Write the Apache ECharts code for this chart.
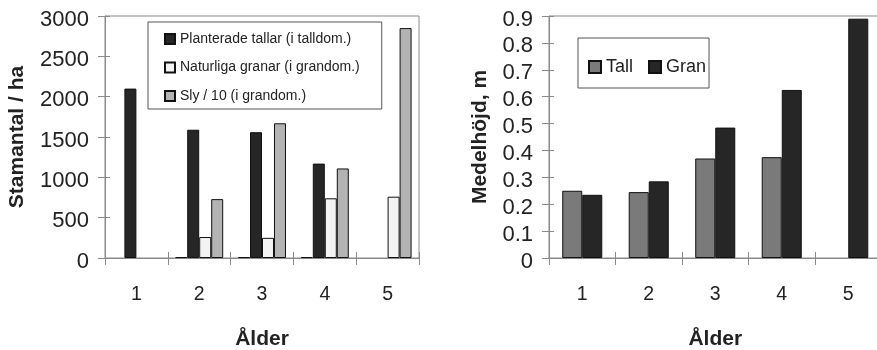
<!DOCTYPE html>
<html>
<head>
<meta charset="utf-8">
<script src="https://cdn.jsdelivr.net/npm/echarts@6/dist/echarts.min.js"></script>
<style>
  html, body { margin: 0; padding: 0; background: #fff; }
  #chart { width: 877px; height: 350px; }
</style>
</head>
<body>
<div id="chart"></div>
<script>
// Age classes shared by both panels
const ageClasses = ['1', '2', '3', '4', '5'];

// Left panel: stems per hectare (null = no bar in that class)
const stemTicksMax = 3000;
const stemTicksStep = 500;
const lowStems = [null, 12, 12, 12, null];
const plantedPine = [2100, 1590, 1560, 1170, null];
const naturalSpruce = [null, 260, 250, 740, 760];
const brushwoodTenth = [null, 730, 1670, 1110, 2850];

// Right panel: mean height in metres
const heightTicksMax = 0.9;
const heightTicksStep = 0.1;
const pineHeight = [0.25, 0.245, 0.37, 0.375, null];
const spruceHeight = [0.235, 0.285, 0.485, 0.625, 0.89];

const FONT = '"Liberation Sans", Arial, Helvetica, sans-serif';
const AXIS_GRAY = '#8a8a8a';
const TEXT = '#222';
const EDGE = { borderColor: '#111', borderWidth: 1 };

const chart = echarts.init(document.getElementById('chart'), null, { renderer: 'canvas' });

function catAxis(grid, withLabels, nameGap) {
  const ax = {
    type: 'category',
    gridIndex: grid,
    data: ageClasses,
    position: 'bottom',
    axisLine: { show: withLabels, lineStyle: { color: AXIS_GRAY, width: 1 } },
    axisTick: { show: true, inside: !withLabels, length: withLabels ? 7 : 6, lineStyle: { color: AXIS_GRAY } },
    axisLabel: { show: withLabels, margin: 27, fontSize: 19.5, color: TEXT, fontFamily: FONT },
    splitLine: { show: false }
  };
  if (withLabels) {
    ax.name = 'Ålder';
    ax.nameLocation = 'middle';
    ax.nameGap = nameGap;
    ax.nameTextStyle = { fontSize: 21, fontWeight: 'bold', color: TEXT, fontFamily: FONT };
  }
  return ax;
}

function valAxis(grid, max, step, withLabels, name, nameGap, fmt) {
  const ax = {
    type: 'value',
    gridIndex: grid,
    position: 'left',
    min: 0,
    max: max,
    interval: step,
    axisLine: { show: withLabels, lineStyle: { color: AXIS_GRAY, width: 1 } },
    axisTick: { show: true, inside: !withLabels, length: withLabels ? 7 : 5, lineStyle: { color: AXIS_GRAY } },
    axisLabel: {
      show: withLabels, margin: 16, fontSize: 22, color: TEXT, fontFamily: FONT,
      verticalAlign: 'top', lineHeight: 7, formatter: fmt
    },
    splitLine: { show: false }
  };
  if (withLabels) {
    ax.name = name;
    ax.nameLocation = 'middle';
    ax.nameGap = nameGap;
    ax.nameTextStyle = { fontSize: 21, fontWeight: 'bold', color: TEXT, fontFamily: FONT };
  }
  return ax;
}

const option = {
  backgroundColor: '#fff',
  animation: false,
  textStyle: { fontFamily: FONT },
  grid: [
    {
      left: 105, top: 16, width: 314, height: 242, outerBoundsMode: 'none', containLabel: false,
      show: true, borderColor: AXIS_GRAY, borderWidth: 1, backgroundColor: 'transparent'
    },
    {
      left: 549, top: 16, width: 332.5, height: 242, outerBoundsMode: 'none', containLabel: false,
      show: true, borderColor: AXIS_GRAY, borderWidth: 1, backgroundColor: 'transparent'
    }
  ],
  xAxis: [
    catAxis(0, true, 71),
    catAxis(0, false),
    catAxis(1, true, 71),
    catAxis(1, false)
  ],
  yAxis: [
    valAxis(0, stemTicksMax, stemTicksStep, true, 'Stamantal / ha', 77, v => String(v)),
    valAxis(0, stemTicksMax, stemTicksStep, false),
    valAxis(1, heightTicksMax, heightTicksStep, true, 'Medelhöjd, m', 58, v => (v === 0 ? '0' : v.toFixed(1))),
    valAxis(1, heightTicksMax, heightTicksStep, false)
  ],
  legend: [
    {
      data: ['Planterade tallar (i talldom.)', 'Naturliga granar (i grandom.)', 'Sly / 10 (i grandom.)'],
      orient: 'vertical',
      left: 148,
      top: 22,
      padding: [9, 22, 5, 16],
      itemGap: 12.5,
      itemWidth: 10,
      itemHeight: 10,
      icon: 'rect',
      borderColor: '#555',
      borderWidth: 1,
      selectedMode: false,
      textStyle: { fontSize: 14, lineHeight: 16, color: TEXT, fontFamily: FONT }
    },
    {
      data: ['Tall', 'Gran'],
      orient: 'horizontal',
      left: 578,
      top: 38,
      padding: [19, 3, 11, 10],
      itemGap: 15,
      itemWidth: 12,
      itemHeight: 12,
      icon: 'rect',
      borderColor: '#555',
      borderWidth: 1,
      selectedMode: false,
      textStyle: { fontSize: 18, lineHeight: 20, color: TEXT, fontFamily: FONT }
    }
  ],
  series: [
    {
      name: 'Övrigt', type: 'bar', xAxisIndex: 0, yAxisIndex: 0,
      data: lowStems, barGap: '0%', barCategoryGap: '23.6%',
      itemStyle: Object.assign({ color: '#262626' }, EDGE)
    },
    {
      name: 'Planterade tallar (i talldom.)', type: 'bar', xAxisIndex: 0, yAxisIndex: 0,
      data: plantedPine, barGap: '0%', barCategoryGap: '23.6%',
      itemStyle: Object.assign({ color: '#262626' }, EDGE)
    },
    {
      name: 'Naturliga granar (i grandom.)', type: 'bar', xAxisIndex: 0, yAxisIndex: 0,
      data: naturalSpruce, barGap: '0%', barCategoryGap: '23.6%',
      itemStyle: Object.assign({ color: '#f3f3f3' }, EDGE)
    },
    {
      name: 'Sly / 10 (i grandom.)', type: 'bar', xAxisIndex: 0, yAxisIndex: 0,
      data: brushwoodTenth, barGap: '0%', barCategoryGap: '23.6%',
      itemStyle: Object.assign({ color: '#b3b3b3' }, EDGE)
    },
    {
      name: 'Tall', type: 'bar', xAxisIndex: 2, yAxisIndex: 2,
      data: pineHeight, barGap: '0%', barCategoryGap: '39.8%',
      itemStyle: Object.assign({ color: '#7a7a7a' }, EDGE)
    },
    {
      name: 'Gran', type: 'bar', xAxisIndex: 2, yAxisIndex: 2,
      data: spruceHeight, barGap: '0%', barCategoryGap: '39.8%',
      itemStyle: Object.assign({ color: '#262626' }, EDGE)
    }
  ]
};

chart.setOption(option);
</script>
</body>
</html>
